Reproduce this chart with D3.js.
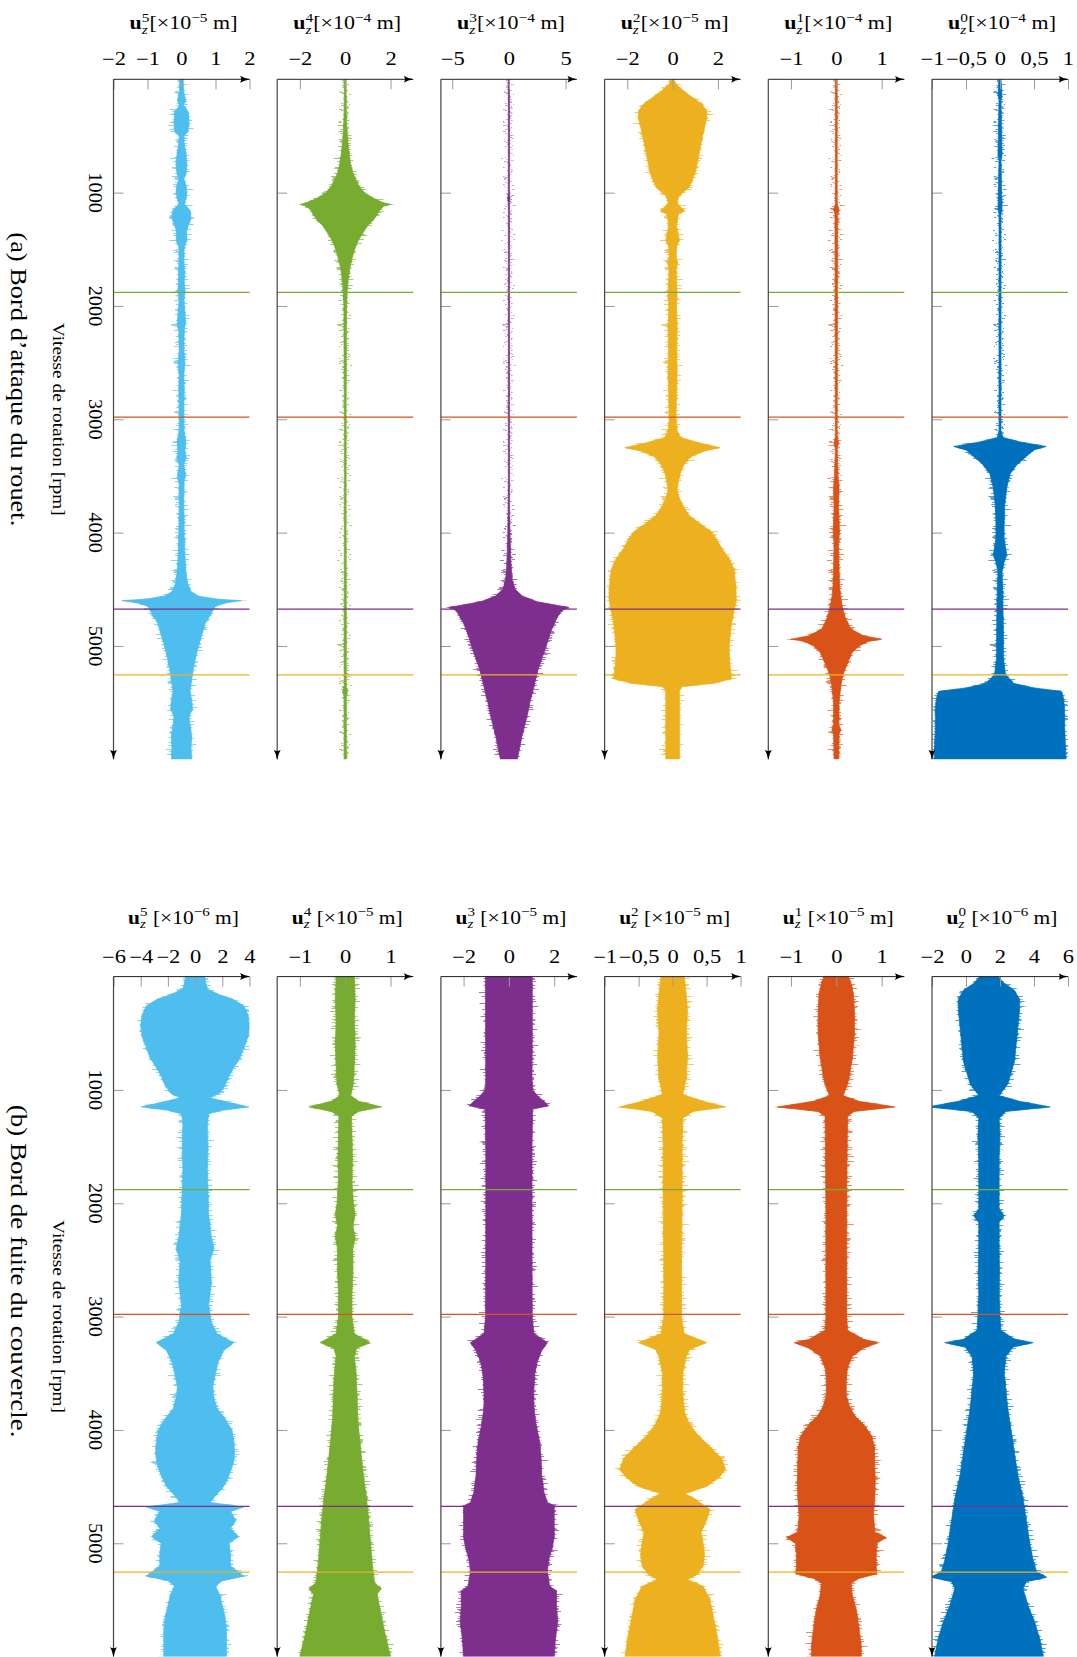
<!DOCTYPE html>
<html><head><meta charset="utf-8">
<script src="https://cdn.jsdelivr.net/npm/d3@7"></script>
<style>
body{margin:0;background:#fff}
svg{display:block}
text{font-family:"Liberation Serif","DejaVu Serif",serif;fill:#000}
</style>
</head><body>
<svg id="chart" width="1077" height="1657"></svg>
<script>
// ---------------- data ----------------
const modes = ["5","4","3","2","1","0"];
const topExponents = ["−5","−4","−4","−5","−4","−4"];
const bottomExponents = ["−6","−5","−5","−5","−5","−6"];
const topDomains = [[-2,2],[-3,3],[-6,6],[-3,3],[-1.5,1.5],[-1,1]];
const bottomDomains = [[-6,4],[-1.5,1.5],[-3,3],[-1,1],[-1.5,1.5],[-2,6]];
const topTicks = [[-2,-1,0,1,2],[-2,0,2],[-5,0,5],[-2,0,2],[-1,0,1],[-1,-0.5,0,0.5,1]];
const bottomTicks = [[-6,-4,-2,0,2,4],[-1,0,1],[-2,0,2],[-1,-0.5,0,0.5,1],[-1,0,1],[-2,0,2,4,6]];
const rpmDomain = [0,6000];
const rpmTicks = [1000,2000,3000,4000,5000];
const criticalSpeeds = [1880,2980,4675,5255];
const criticalColors = ["#77AC30","#D95319","#7E2F8E","#EDB120"];
const seriesColors = ["#4DBEEE","#77AC30","#7E2F8E","#EDB120","#D95319","#0072BD"];
const topCenters = [0,0,0,0,0,0];
const bottomCenters = [0,0,0,0,0,1.35];
const sectionTitles = ["(a) Bord d’attaque du rouet.","(b) Bord de fuite du couvercle."];
const yAxisTitle = "Vitesse de rotation [rpm]";

// envelopes: [rpm, half amplitude]
const leadingU5 = [[0,0.05],[100,0.06],[190,0.12],[230,0.06],[290,0.2],[380,0.22],[460,0.2],[500,0.07],[560,0.08],[680,0.14],[760,0.16],[840,0.13],[880,0.07],[940,0.14],[1000,0.16],[1060,0.12],[1100,0.08],[1160,0.26],[1230,0.28],[1290,0.2],[1340,0.15],[1420,0.16],[1480,0.08],[1600,0.07],[1700,0.09],[1800,0.08],[1870,0.11],[1950,0.07],[2050,0.1],[2150,0.12],[2220,0.08],[2400,0.07],[2500,0.1],[2600,0.07],[2750,0.08],[2900,0.07],[3100,0.07],[3200,0.13],[3280,0.1],[3340,0.14],[3400,0.07],[3500,0.12],[3560,0.07],[3800,0.07],[4000,0.08],[4200,0.1],[4350,0.13],[4450,0.18],[4520,0.28],[4560,0.5],[4585,1.0],[4600,1.75],[4620,1.3],[4650,1.0],[4700,0.9],[4800,0.7],[4900,0.6],[5000,0.5],[5100,0.42],[5200,0.35],[5300,0.3],[5400,0.25],[5480,0.3],[5560,0.32],[5620,0.22],[5700,0.25],[5800,0.3],[5900,0.28],[6000,0.3]];
const leadingU4 = [[0,0.04],[300,0.05],[450,0.08],[550,0.12],[650,0.17],[740,0.23],[820,0.33],[880,0.45],[940,0.6],[1000,0.85],[1050,1.25],[1090,1.7],[1105,2.0],[1120,1.7],[1160,1.5],[1200,1.4],[1250,1.2],[1290,1.0],[1350,0.8],[1420,0.58],[1500,0.42],[1580,0.3],[1670,0.2],[1770,0.13],[1870,0.09],[2000,0.06],[2500,0.05],[3000,0.04],[4000,0.04],[5000,0.05],[5350,0.05],[5400,0.1],[5450,0.05],[6000,0.05]];
const leadingU3 = [[0,0.05],[1000,0.05],[1050,0.1],[1100,0.05],[3500,0.05],[3850,0.07],[4100,0.12],[4300,0.2],[4420,0.3],[4500,0.55],[4560,1.2],[4610,2.5],[4640,4.2],[4660,5.3],[4680,4.8],[4710,4.5],[4800,4.0],[4900,3.6],[5000,3.3],[5100,2.95],[5200,2.6],[5300,2.35],[5400,2.1],[5500,1.85],[5600,1.65],[5700,1.4],[5800,1.15],[5900,0.95],[6000,0.75]];
const leadingU2 = [[0,0.05],[40,0.15],[80,0.35],[120,0.6],[170,0.95],[220,1.3],[280,1.5],[350,1.5],[430,1.4],[520,1.3],[620,1.2],[720,1.1],[820,1.0],[900,0.85],[960,0.7],[1000,0.45],[1040,0.25],[1090,0.2],[1130,0.35],[1160,0.55],[1190,0.25],[1250,0.2],[1300,0.18],[1360,0.25],[1420,0.3],[1470,0.18],[1560,0.15],[1620,0.22],[1680,0.16],[1800,0.18],[1900,0.2],[2000,0.17],[2200,0.2],[2400,0.18],[2600,0.2],[2800,0.17],[3000,0.15],[3100,0.2],[3160,0.35],[3210,1.2],[3250,2.1],[3280,1.4],[3330,0.8],[3400,0.5],[3470,0.35],[3550,0.25],[3620,0.2],[3700,0.3],[3780,0.5],[3850,0.75],[3920,1.2],[3990,1.7],[4060,1.95],[4150,2.2],[4230,2.5],[4320,2.7],[4400,2.75],[4500,2.8],[4600,2.8],[4700,2.7],[4800,2.6],[4900,2.55],[5000,2.5],[5100,2.5],[5200,2.55],[5290,2.6],[5330,1.8],[5360,0.4],[5400,0.3],[5600,0.3],[5800,0.3],[6000,0.3]];
const leadingU1 = [[0,0.02],[1100,0.02],[1150,0.06],[1190,0.03],[3150,0.02],[3210,0.05],[3260,0.02],[3500,0.04],[3600,0.06],[3800,0.05],[3990,0.07],[4100,0.05],[4300,0.06],[4450,0.07],[4550,0.09],[4650,0.13],[4750,0.2],[4850,0.32],[4910,0.6],[4940,1.0],[4960,0.7],[5000,0.5],[5060,0.35],[5150,0.25],[5250,0.15],[5350,0.1],[5500,0.06],[5700,0.06],[5740,0.1],[5780,0.06],[6000,0.05]];
const leadingU0 = [[0,0.015],[140,0.03],[180,0.015],[680,0.03],[720,0.015],[1150,0.03],[1190,0.015],[3100,0.015],[3160,0.04],[3200,0.3],[3240,0.68],[3270,0.5],[3330,0.38],[3400,0.25],[3480,0.15],[3600,0.1],[3750,0.07],[3900,0.06],[4050,0.06],[4200,0.1],[4260,0.06],[4350,0.03],[4500,0.04],[4700,0.045],[4900,0.05],[5100,0.05],[5250,0.08],[5330,0.2],[5370,0.5],[5400,0.9],[5450,0.93],[5550,0.95],[5700,0.95],[5850,0.96],[6000,0.97]];

const trailingU5 = [[0,0.7],[60,0.8],[110,0.9],[160,1.8],[200,2.8],[260,3.6],[340,3.9],[430,4.0],[530,3.9],[620,3.6],[720,3.3],[840,2.65],[960,2.2],[1030,1.8],[1070,1.1],[1110,2.5],[1150,3.95],[1180,2.0],[1210,1.0],[1300,0.9],[1500,0.95],[1700,0.9],[1900,0.95],[2100,1.0],[2300,1.2],[2400,1.4],[2500,1.1],[2700,1.2],[2900,1.0],[3050,1.2],[3150,1.6],[3230,2.85],[3300,2.1],[3400,1.7],[3500,1.5],[3620,1.3],[3720,1.4],[3810,1.6],[3900,2.2],[4000,2.7],[4100,2.85],[4200,2.9],[4300,2.8],[4400,2.5],[4500,2.1],[4580,1.5],[4640,1.1],[4680,3.6],[4720,2.6],[4800,3.0],[4870,2.6],[4940,3.2],[5000,2.5],[5100,2.6],[5200,2.6],[5290,3.6],[5330,2.0],[5380,1.5],[5450,1.8],[5550,2.0],[5650,2.2],[5750,2.3],[5850,2.3],[6000,2.3]];
const trailingU4 = [[0,0.2],[200,0.22],[400,0.2],[600,0.22],[800,0.2],[950,0.18],[1050,0.12],[1100,0.3],[1150,0.8],[1190,0.3],[1230,0.14],[1400,0.15],[1600,0.16],[1800,0.15],[2000,0.18],[2100,0.22],[2200,0.17],[2300,0.22],[2400,0.17],[2600,0.17],[2800,0.15],[3000,0.15],[3150,0.2],[3230,0.55],[3280,0.25],[3350,0.2],[3500,0.24],[3700,0.26],[3900,0.28],[4000,0.3],[4200,0.35],[4400,0.4],[4600,0.47],[4800,0.52],[5000,0.56],[5200,0.6],[5350,0.65],[5400,0.8],[5450,0.7],[5600,0.78],[5800,0.88],[6000,1.0]];
const trailingU3 = [[0,1.03],[500,1.03],[900,1.02],[1000,1.05],[1060,1.3],[1100,1.55],[1140,1.75],[1170,1.05],[1500,1.02],[2000,1.02],[2500,1.02],[3000,1.03],[3150,1.1],[3230,1.7],[3300,1.45],[3400,1.25],[3500,1.15],[3650,1.1],[3800,1.1],[3950,1.2],[4100,1.35],[4250,1.42],[4400,1.45],[4550,1.55],[4640,1.7],[4670,2.0],[4800,2.0],[4950,2.0],[5050,1.9],[5150,1.75],[5250,1.7],[5380,1.8],[5420,2.1],[5550,2.1],[5700,2.15],[5850,2.05],[6000,2.0]];
const trailingU2 = [[0,0.17],[150,0.2],[300,0.22],[500,0.2],[700,0.22],[900,0.2],[1040,0.15],[1100,0.45],[1150,0.78],[1190,0.3],[1250,0.15],[1500,0.14],[2000,0.14],[2500,0.13],[3000,0.13],[3150,0.17],[3230,0.5],[3290,0.25],[3350,0.2],[3500,0.15],[3700,0.15],[3850,0.18],[3950,0.25],[4050,0.38],[4150,0.55],[4250,0.72],[4350,0.78],[4420,0.68],[4500,0.5],[4560,0.18],[4620,0.35],[4700,0.55],[4800,0.5],[4900,0.42],[5000,0.45],[5100,0.47],[5200,0.45],[5280,0.35],[5320,0.22],[5380,0.45],[5500,0.55],[5650,0.6],[5800,0.65],[6000,0.7]];
const trailingU1 = [[0,0.27],[50,0.32],[150,0.38],[300,0.4],[500,0.4],[700,0.36],[850,0.3],[950,0.25],[1050,0.15],[1100,0.5],[1150,1.3],[1190,0.4],[1230,0.25],[1500,0.24],[2000,0.23],[2500,0.23],[3000,0.23],[3120,0.25],[3200,0.6],[3230,0.93],[3280,0.6],[3350,0.35],[3450,0.25],[3550,0.22],[3700,0.22],[3800,0.3],[3880,0.42],[3950,0.6],[4050,0.78],[4150,0.84],[4300,0.85],[4450,0.86],[4600,0.85],[4750,0.82],[4900,0.85],[4950,1.1],[5000,0.9],[5100,0.88],[5200,0.88],[5270,0.9],[5310,0.5],[5350,0.33],[5450,0.35],[5600,0.45],[5750,0.5],[5900,0.55],[6000,0.55]];
const trailingU0 = [[0,0.55],[60,0.9],[120,1.5],[200,1.8],[300,1.8],[450,1.7],[600,1.6],[750,1.5],[850,1.3],[950,1.1],[1050,0.6],[1100,1.8],[1150,3.6],[1190,1.0],[1250,0.6],[1400,0.65],[1600,0.6],[1800,0.6],[1950,0.6],[2050,0.6],[2110,0.9],[2170,0.6],[2400,0.6],[2600,0.62],[2800,0.6],[3000,0.65],[3120,0.7],[3200,1.5],[3230,2.6],[3270,1.4],[3350,1.0],[3500,0.9],[3650,1.0],[3800,1.1],[4000,1.3],[4200,1.5],[4400,1.7],[4600,2.0],[4800,2.2],[5000,2.4],[5150,2.6],[5250,2.8],[5300,3.4],[5340,2.2],[5400,2.0],[5550,2.3],[5700,2.7],[5850,3.0],[6000,3.2]];

// ---------------- layout ----------------
const svg = d3.select("#chart");
const sectionTops = [79.3, 976.6];
const panelLeft0 = 113.5, panelStep = 163.7, panelW = 136, plotH = 680;
const fmt = d3.formatLocale({decimal:",", thousands:"", grouping:[3], currency:["",""], minus:"−"}).format("");

// horizontally stretch a text element (the reference font is wider than Liberation Serif)
function widenTo(sel, base, target) {
  const w = sel.node().getBBox().width;
  sel.attr("transform", base + ` scale(${target / w},1)`);
}

const defs = svg.append("defs");
defs.append("marker").attr("id","arrow").attr("viewBox","0 0 10 8").attr("refX",9.5).attr("refY",4)
  .attr("markerWidth",10).attr("markerHeight",8).attr("markerUnits","userSpaceOnUse").attr("orient","auto")
  .append("path").attr("d","M0,0.5 Q4,3 10,4 Q4,5 0,7.5 Q2.5,4 0,0.5Z").attr("fill","#000");
const filt = defs.append("filter").attr("id","jag").attr("filterUnits","userSpaceOnUse")
  .attr("x",-30).attr("y",-2).attr("width",panelW+60).attr("height",plotH+4)
  .attr("color-interpolation-filters","sRGB");
filt.append("feTurbulence").attr("type","fractalNoise").attr("baseFrequency","0.04 0.8").attr("numOctaves",2).attr("seed",7).attr("result","n");
filt.append("feColorMatrix").attr("in","n").attr("type","matrix")
  .attr("values","1.6 0 0 0 -0.3  0 0 0 0 0.5  0 0 0 0 0  0 0 0 0 1").attr("result","m");
filt.append("feDisplacementMap").attr("in","SourceGraphic").attr("in2","m").attr("scale",14)
  .attr("xChannelSelector","R").attr("yChannelSelector","G");

const sections = [
  {series:[leadingU5,leadingU4,leadingU3,leadingU2,leadingU1,leadingU0], domains:topDomains, ticks:topTicks, exps:topExponents, centers:topCenters, spaced:false},
  {series:[trailingU5,trailingU4,trailingU3,trailingU2,trailingU1,trailingU0], domains:bottomDomains, ticks:bottomTicks, exps:bottomExponents, centers:bottomCenters, spaced:true}
];

sections.forEach((sec, si) => {
  const top = sectionTops[si];
  const y = d3.scaleLinear().domain(rpmDomain).range([0, plotH]);
  sec.series.forEach((data, pi) => {
    const left = panelLeft0 + pi * panelStep;
    const x = d3.scaleLinear().domain(sec.domains[pi]).range([0, panelW]);
    const g = svg.append("g").attr("transform", `translate(${left},${top})`);
    const clipId = `clip${si}_${pi}`;
    defs.append("clipPath").attr("id", clipId).append("rect").attr("x",0).attr("y",0).attr("width",panelW).attr("height",plotH);
    const c = sec.centers[pi];
    const area = d3.area().y(d => y(d[0])).x0(d => x(c - d[1])).x1(d => x(c + d[1])).curve(d3.curveLinear);
    const col = seriesColors[pi];
    const pg = g.append("g").attr("clip-path", `url(#${clipId})`);
    pg.append("path").datum(data).attr("d", area).attr("fill", col).attr("opacity", 0.65).attr("filter","url(#jag)");
    pg.append("path").datum(data).attr("d", area).attr("fill", col).attr("stroke", col).attr("stroke-width", 0.7);
    // critical speed lines
    g.selectAll("line.crit").data(criticalSpeeds).join("line").attr("class","crit")
      .attr("x1",0).attr("x2",panelW).attr("y1",d=>y(d)).attr("y2",d=>y(d))
      .attr("stroke",(d,i)=>criticalColors[i]).attr("stroke-width",1.3);
    // x axis (top)
    const xa = g.append("g").call(d3.axisTop(x).tickValues(sec.ticks[pi]).tickSizeInner(-10).tickSizeOuter(0).tickPadding(14).tickFormat(fmt));
    xa.select(".domain").remove();
    xa.selectAll(".tick line").attr("stroke","#9a9a9a").attr("stroke-width",1);
    xa.selectAll(".tick text").attr("font-size",18).attr("font-family",'"Liberation Serif",serif').attr("fill","#000")
      .attr("transform","scale(1.25,1)");
    // y axis (left)
    const ya = g.append("g").call(d3.axisLeft(y).tickValues(rpmTicks).tickSizeInner(-10).tickSizeOuter(0).tickFormat(() => ""));
    ya.select(".domain").remove();
    ya.selectAll(".tick line").attr("stroke","#9a9a9a").attr("stroke-width",1);
    g.append("line").attr("x1",0).attr("y1",0).attr("x2",panelW).attr("y2",0).attr("stroke","#222").attr("stroke-width",1).attr("marker-end","url(#arrow)");
    g.append("line").attr("x1",0).attr("y1",0).attr("x2",0).attr("y2",plotH).attr("stroke","#444").attr("stroke-width",1.2).attr("marker-end","url(#arrow)");
    // title
    const base = `translate(${panelW/2 + 2},${sec.spaced ? -53 : -50})`;
    const t = g.append("text").attr("x",0).attr("y",0)
      .attr("text-anchor","middle").attr("font-size",18.5).style("white-space","pre");
    t.append("tspan").attr("font-weight","bold").text("u");
    t.append("tspan").attr("font-size",13).attr("dy",-7.5).text(modes[pi]);
    t.append("tspan").attr("font-size",13).attr("font-style","italic").attr("dx",-6.5).attr("dy",12).text("z");
    t.append("tspan").attr("font-size",18.5).attr("dy",-4.5).attr("dx",1.5).text((sec.spaced ? " " : "") + "[×10");
    t.append("tspan").attr("font-size",13).attr("dy",-7.5).text(sec.exps[pi]);
    t.append("tspan").attr("font-size",18.5).attr("dy",7.5).text(" m]");
    widenTo(t, base, sec.spaced ? 111 : 108);
  });
  // rpm tick labels
  svg.append("g").selectAll("text").data(rpmTicks).join("text")
    .attr("transform", d => `translate(95,${top + y(d)}) rotate(90) scale(1.1,1)`)
    .attr("text-anchor","middle").attr("dy","0.35em").attr("font-size",18.5).text(d => d);
  const vt = svg.append("text").attr("text-anchor","middle").attr("dy","0.35em").attr("font-size",17).text(yAxisTitle);
  widenTo(vt, `translate(58.5,${top + 340}) rotate(90)`, 193);
  const st = svg.append("text").attr("text-anchor","middle").attr("dy","0.35em").attr("font-size",24).text(sectionTitles[si]);
  widenTo(st, `translate(19,${top + (si === 0 ? 300 : 294.5)}) rotate(90)`, si === 0 ? 294 : 333);
});
</script>
</body></html>
